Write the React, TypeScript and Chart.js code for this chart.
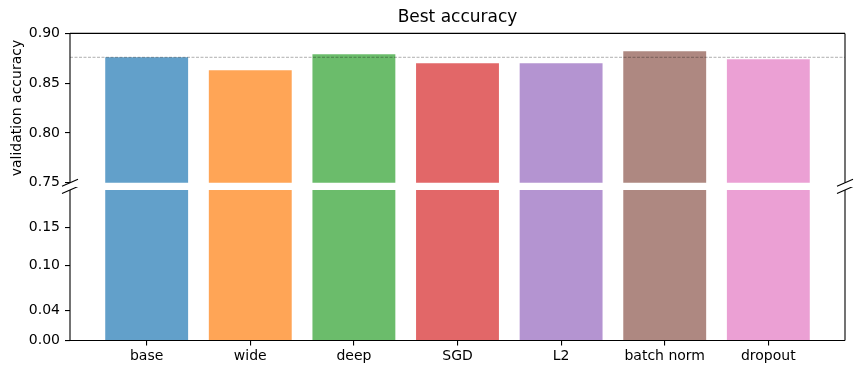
import React, { useEffect, useRef } from 'react';
import { Chart, registerables } from 'chart.js';

Chart.register(...registerables);

const categories = ['base', 'wide', 'deep', 'SGD', 'L2', 'batch norm', 'dropout'];
const accuracy = [0.876, 0.863, 0.879, 0.87, 0.87, 0.882, 0.874];
const barColors = [
  'rgba(31,119,180,0.7)',
  'rgba(255,127,14,0.7)',
  'rgba(44,160,44,0.7)',
  'rgba(214,39,40,0.7)',
  'rgba(148,103,189,0.7)',
  'rgba(140,86,75,0.7)',
  'rgba(227,119,194,0.7)',
];
const topTicks = [0.75, 0.8, 0.85, 0.9];
const bottomTicks = [0.0, 0.04, 0.1, 0.15];
const topRange = [0.75, 0.9];
const bottomRange = [0, 0.2];
const xRange = [-0.74, 6.74];
const baselineValue = accuracy[0];

const FONT = "'DejaVu Sans', sans-serif";
const W = 863;
const TOP_H = 200;
const BOT_TOP = 187;
const BOT_H = 374 - BOT_TOP;
const TOP_AREA_BOTTOM = 182.7;
const BOT_AREA_TOP = 190;
const BOT_AREA_BOTTOM = 340.5;

function spinesPlugin(part: 'top' | 'bottom') {
  return {
    id: 'spines_' + part,
    afterDatasetsDraw(chart: any) {
      const { ctx, chartArea } = chart;
      const { left, right, top, bottom } = chartArea;
      ctx.save();
      if (part === 'top') {
        const y = chart.scales.y.getPixelForValue(baselineValue);
        ctx.strokeStyle = 'rgba(0,0,0,0.4)';
        ctx.lineWidth = 0.8;
        ctx.setLineDash([3, 1.5]);
        ctx.beginPath();
        ctx.moveTo(left, y);
        ctx.lineTo(right, y);
        ctx.stroke();
        ctx.setLineDash([]);
      }
      ctx.strokeStyle = '#000';
      ctx.lineWidth = 1.1;
      ctx.beginPath();
      ctx.moveTo(left, top);
      ctx.lineTo(left, bottom);
      ctx.moveTo(right, top);
      ctx.lineTo(right, bottom);
      if (part === 'top') {
        ctx.moveTo(left, top);
        ctx.lineTo(right, top);
      } else {
        ctx.moveTo(left, bottom);
        ctx.lineTo(right, bottom);
      }
      ctx.stroke();
      const yb = part === 'top' ? bottom : top;
      ctx.beginPath();
      for (const x of [left, right]) {
        ctx.moveTo(x - 8, yb + 3.5);
        ctx.lineTo(x + 8, yb - 3.5);
      }
      ctx.stroke();
      ctx.restore();
    },
  };
}

function makeConfig(part: 'top' | 'bottom'): any {
  const isTop = part === 'top';
  const range = isTop ? topRange : bottomRange;
  const yTicks = isTop ? topTicks : bottomTicks;
  return {
    type: 'bar',
    data: {
      datasets: [
        {
          data: categories.map((_, i) => ({ x: i, y: accuracy[i] })),
          backgroundColor: barColors,
          borderWidth: 0,
          categoryPercentage: 1,
          barPercentage: 0.8,
          clip: 0,
        },
      ],
    },
    options: {
      responsive: false,
      animation: false,
      events: [],
      layout: {
        padding: isTop
          ? { left: 0, right: 18, top: 0, bottom: TOP_H - TOP_AREA_BOTTOM }
          : { left: 0, right: 18, top: BOT_AREA_TOP - BOT_TOP, bottom: 0 },
      },
      plugins: {
        legend: { display: false },
        tooltip: { enabled: false },
        title: {
          display: isTop,
          text: 'Best accuracy',
          fullSize: false,
          color: '#000',
          font: { family: FONT, size: 17, weight: 'normal' },
          padding: { top: 7, bottom: 6 },
        },
      },
      scales: {
        x: {
          type: 'linear',
          display: !isTop,
          min: xRange[0],
          max: xRange[1],
          offset: false,
          afterBuildTicks: (s: any) => {
            s.ticks = categories.map((_, i) => ({ value: i }));
          },
          afterFit: (s: any) => {
            if (!isTop) s.height = 374 - BOT_AREA_BOTTOM;
            s.paddingLeft = 0;
            s.paddingRight = 0;
          },
          ticks: {
            autoSkip: false,
            maxRotation: 0,
            padding: 2,
            color: '#000',
            font: { family: FONT, size: 14 },
            callback: (v: any) => categories[Math.round(v)] ?? '',
          },
          grid: {
            display: true,
            offset: false,
            drawOnChartArea: false,
            drawTicks: true,
            tickLength: 5,
            color: '#000',
            lineWidth: 1.1,
          },
          border: { display: false },
        },
        y: {
          type: 'linear',
          min: range[0],
          max: range[1],
          afterBuildTicks: (s: any) => {
            s.ticks = yTicks.map((v) => ({ value: v }));
          },
          afterFit: (s: any) => {
            s.width = 70;
            s.paddingTop = 0;
            s.paddingBottom = 0;
          },
          title: {
            display: isTop,
            text: 'validation accuracy',
            color: '#000',
            font: { family: FONT, size: 14 },
            padding: { top: 9, bottom: 0 },
          },
          ticks: {
            autoSkip: false,
            padding: 5,
            color: '#000',
            font: { family: FONT, size: 14 },
            callback: (v: any) => Number(v).toFixed(2),
          },
          grid: {
            display: true,
            offset: false,
            drawOnChartArea: false,
            drawTicks: true,
            tickLength: 5,
            color: '#000',
            lineWidth: 1.1,
          },
          border: { display: false },
        },
      },
    },
    plugins: [spinesPlugin(part)],
  };
}

export default function App() {
  const topRef = useRef<HTMLCanvasElement>(null);
  const botRef = useRef<HTMLCanvasElement>(null);

  useEffect(() => {
    const c1 = new Chart(topRef.current as HTMLCanvasElement, makeConfig('top'));
    const c2 = new Chart(botRef.current as HTMLCanvasElement, makeConfig('bottom'));
    return () => {
      c1.destroy();
      c2.destroy();
    };
  }, []);

  return (
    <div
      style={{
        position: 'fixed',
        left: 0,
        top: 0,
        width: W,
        height: 374,
        background: '#fff',
      }}
    >
      <canvas
        ref={topRef}
        width={W}
        height={TOP_H}
        style={{ position: 'absolute', left: 0, top: 0, width: W, height: TOP_H }}
      />
      <canvas
        ref={botRef}
        width={W}
        height={BOT_H}
        style={{ position: 'absolute', left: 0, top: BOT_TOP, width: W, height: BOT_H }}
      />
    </div>
  );
}
